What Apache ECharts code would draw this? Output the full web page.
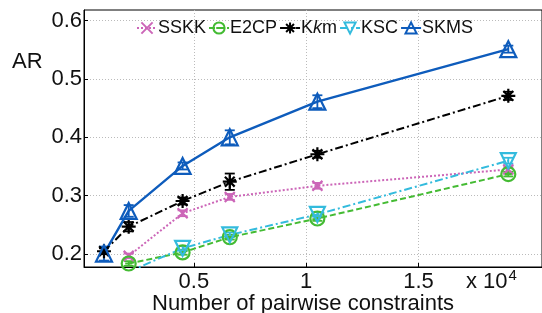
<!DOCTYPE html>
<html>
<head>
<meta charset="utf-8">
<script src="https://cdn.jsdelivr.net/npm/echarts@6/dist/echarts.min.js"></script>
<style>
  html, body { margin: 0; padding: 0; background: #fff; }
  #main { width: 542px; height: 313px; }
</style>
</head>
<body>
<div id="main"></div>
<script>
// x positions, in units of 10^4 pairwise constraints
var xs = [0.1, 0.21, 0.45, 0.66, 1.05, 1.9]
var xTicks = [0.5, 1, 1.5]
var yTicks = [0.2, 0.3, 0.4, 0.5, 0.6]

var sskk = [null, 0.197, 0.270, 0.298, 0.317, 0.345]
var e2cp = [null, 0.184, 0.203, 0.229, 0.261, 0.337]
var kkm  = [0.205, 0.247, 0.291, 0.324, 0.371, 0.471]
var ksc  = [null, 0.170, 0.210, 0.233, 0.268, 0.360]
var skms = [0.201, 0.274, 0.351, 0.400, 0.461, 0.551]

var sskkErr = [null, 0.004, 0.005, 0.005, 0.005, 0.004]
var e2cpErr = [null, 0.004, 0.004, 0.004, 0.004, 0.004]
var kkmErr  = [0.005, 0.008, 0.006, 0.014, 0.006, 0.007]
var kscErr  = [null, null, 0.004, 0.004, 0.004, 0.005]
var skmsErr = [0.012, 0.010, 0.006, 0.012, 0.011, 0.006]

var font = 'Liberation Sans, Arial, sans-serif'

function pts(ys) {
  var out = []
  for (var i = 0; i < xs.length; i++) {
    if (ys[i] != null) out.push([xs[i], ys[i]])
  }
  return out
}

function errs(ys, es) {
  var out = []
  for (var i = 0; i < xs.length; i++) {
    if (ys[i] != null && es[i] != null) out.push([xs[i], ys[i] - es[i], ys[i] + es[i]])
  }
  return out
}

function errSeries(ys, es, color) {
  return {
    type: 'custom',
    silent: true,
    z: 3,
    data: errs(ys, es),
    renderItem: function (params, api) {
      var lo = api.coord([api.value(0), api.value(1)])
      var hi = api.coord([api.value(0), api.value(2)])
      var w = 5
      var st = { stroke: color, lineWidth: 1.8 }
      return {
        type: 'group',
        children: [
          { type: 'line', shape: { x1: lo[0], y1: lo[1], x2: hi[0], y2: hi[1] }, style: st },
          { type: 'line', shape: { x1: lo[0] - w, y1: lo[1], x2: lo[0] + w, y2: lo[1] }, style: st },
          { type: 'line', shape: { x1: hi[0] - w, y1: hi[1], x2: hi[0] + w, y2: hi[1] }, style: st }
        ]
      }
    }
  }
}

var cPink = '#cc66b8', cGreen = '#44bb33', cBlack = '#000000', cCyan = '#33bbdd', cBlue = '#0e5cbc'

var symX = 'path://M0,0L10,10M10,0L0,10'
var symStar = 'path://M5,0L5,10M0,5L10,5M1.5,1.5L8.5,8.5M8.5,1.5L1.5,8.5'
var symCircle = 'path://M10,5A5,5,0,1,1,0,5A5,5,0,1,1,10,5ZM2.5,5L7.5,5'

function lineSeries(name, ys, color, lineType, width, symbol, size, rotate) {
  return {
    name: name,
    type: 'line',
    data: pts(ys),
    z: 4,
    symbol: symbol,
    symbolSize: size,
    symbolRotate: rotate || 0,
    showAllSymbol: true,
    clip: true,
    lineStyle: { color: color, width: width, type: lineType },
    itemStyle: { color: 'rgba(255,255,255,0)', borderColor: color, borderWidth: 2.2 }
  }
}

var chart = echarts.init(document.getElementById('main'))
var option = {
  backgroundColor: '#fff',
  animation: false,
  grid: {
    left: 84, right: 0, top: 10, bottom: 46,
    outerBoundsMode: 'none',
    containLabel: false,
    show: true, borderColor: '#000', borderWidth: 1, backgroundColor: 'transparent'
  },
  legend: {
    top: 14,
    left: 131,
    itemGap: 2,
    itemWidth: 20,
    itemHeight: 14,
    textStyle: {
      fontFamily: font, fontSize: 18, color: '#111', padding: [0, 0, 0, -4],
      rich: {
        n: { fontFamily: font, fontSize: 18, color: '#111' },
        i: { fontFamily: font, fontSize: 18, fontStyle: 'italic', color: '#111' }
      }
    },
    formatter: function (name) {
      return name === 'Kkm' ? '{n|K}{i|k}{n|m}' : '{n|' + name + '}'
    },
    data: ['SSKK', 'E2CP', 'Kkm', 'KSC', 'SKMS']
  },
  xAxis: {
    type: 'value',
    min: 0.011,
    max: 2.05,
    axisLine: { show: true, lineStyle: { color: '#000', width: 1 } },
    axisTick: { show: true, inside: true, length: 4, customValues: xTicks, lineStyle: { color: '#000' } },
    axisLabel: {
      customValues: xTicks, fontFamily: font, fontSize: 22, color: '#111', margin: 4,
      formatter: function (v) { return String(v) }
    },
    splitLine: { show: true, lineStyle: { color: '#bbb', type: [1, 2], width: 1 } }
  },
  yAxis: {
    type: 'value',
    min: 0.178,
    max: 0.618,
    axisLine: { show: true, lineStyle: { color: '#000', width: 1 } },
    axisTick: { show: true, inside: true, length: 4, customValues: yTicks, lineStyle: { color: '#000' } },
    axisLabel: {
      customValues: yTicks, fontFamily: font, fontSize: 22, color: '#111', margin: 2,
      formatter: function (v) { return v.toFixed(1) }
    },
    splitLine: { show: true, lineStyle: { color: '#bbb', type: [1, 2], width: 1 } }
  },
  graphic: [
    {
      type: 'text', left: 12, top: 51,
      style: { text: 'AR', font: '22px ' + font, fill: '#111' }
    },
    {
      type: 'text', left: 466, top: 268,
      style: {
        text: 'x 10{s|4}', font: '22px ' + font, fill: '#111',
        rich: { s: { font: '15px ' + font, fill: '#111', verticalAlign: 'top', padding: [0, 0, 12, 1] } }
      }
    },
    {
      type: 'text', left: 152, top: 293,
      style: { text: 'Number of pairwise constraints', font: '22px ' + font, fill: '#111' }
    }
  ],
  series: [
    lineSeries('SSKK', sskk, cPink, [2, 2], 2, symX, 10),
    lineSeries('E2CP', e2cp, cGreen, [6, 3], 2, symCircle, 14),
    lineSeries('Kkm', kkm, cBlack, [8, 3, 2, 3], 2, symStar, 14),
    lineSeries('KSC', ksc, cCyan, [8, 3, 2, 3], 2, 'triangle', 15, 180),
    lineSeries('SKMS', skms, cBlue, 'solid', 2.4, 'triangle', 16),
    errSeries(sskk, sskkErr, cPink),
    errSeries(e2cp, e2cpErr, cGreen),
    errSeries(kkm, kkmErr, cBlack),
    errSeries(ksc, kscErr, cCyan),
    errSeries(skms, skmsErr, cBlue)
  ]
}
chart.setOption(option)
</script>
</body>
</html>
